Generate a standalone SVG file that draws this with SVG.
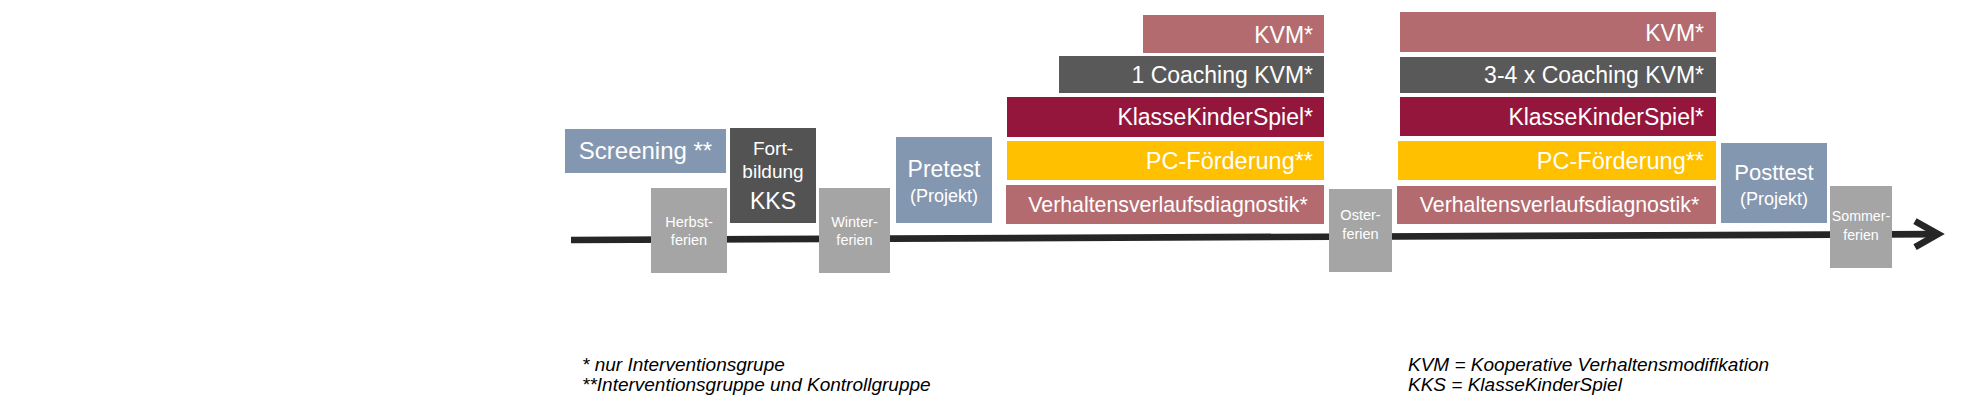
<svg xmlns="http://www.w3.org/2000/svg" width="1974" height="402" viewBox="0 0 1974 402">
  <style>
    text { font-family: "Liberation Sans", Arial, sans-serif; fill: #ffffff; }
    .mid { text-anchor: middle; }
    .end { text-anchor: end; }
    .bar { font-size: 23px; }
    .ferien { font-size: 14.5px; }
    .note { font-size: 19px; font-style: italic; fill: #000000; }
    .blue { fill: #8497B0; }
    .grey { fill: #A5A5A5; }
    .dark { fill: #535353; }
    .coach { fill: #595959; }
    .rose { fill: #B46B6F; }
    .maroon { fill: #95163D; }
    .yellow { fill: #FFC000; }
  </style>
  <defs>
    <marker id="arrowOpen" markerUnits="userSpaceOnUse" markerWidth="40" markerHeight="40" refX="0" refY="0" viewBox="-30 -20 40 40" orient="auto" overflow="visible">
      <path d="M-23,-13 L0,0 L-23,13" fill="none" stroke="#262626" stroke-width="6.7" stroke-linejoin="miter"/>
    </marker>
  </defs>

  <rect width="1974" height="402" fill="#ffffff"/>

  <g id="connectors">
    <line x1="571" y1="240" x2="1938" y2="234.1" stroke="#262626" stroke-width="6.7" marker-end="url(#arrowOpen)"/>
  </g>

  <g id="screening">
    <rect class="blue" x="565" y="129" width="161" height="44"/>
    <text class="mid" x="645.5" y="159" font-size="24">Screening **</text>
  </g>

  <g id="herbstferien">
    <rect class="grey" x="651" y="188" width="76" height="85"/>
    <text class="mid ferien" x="689" y="227">Herbst-</text>
    <text class="mid ferien" x="689" y="245">ferien</text>
  </g>

  <g id="fortbildung">
    <rect class="dark" x="730" y="128" width="86" height="95"/>
    <text class="mid" x="773" y="155" font-size="19">Fort-</text>
    <text class="mid" x="773" y="178" font-size="19">bildung</text>
    <text class="mid" x="773" y="209" font-size="23">KKS</text>
  </g>

  <g id="winterferien">
    <rect class="grey" x="819" y="188" width="71" height="85"/>
    <text class="mid ferien" x="854.5" y="227">Winter-</text>
    <text class="mid ferien" x="854.5" y="245">ferien</text>
  </g>

  <g id="pretest">
    <rect class="blue" x="896" y="137" width="96" height="86"/>
    <text class="mid" x="944" y="177" font-size="23">Pretest</text>
    <text class="mid" x="944" y="202" font-size="18">(Projekt)</text>
  </g>

  <g id="kvm1">
    <rect class="rose" x="1143" y="15" width="181" height="38"/>
    <text class="end bar" x="1313" y="42.5">KVM*</text>
  </g>
  <g id="coaching1">
    <rect class="coach" x="1059" y="56" width="265" height="37"/>
    <text class="end bar" x="1313" y="83">1 Coaching KVM*</text>
  </g>
  <g id="kks1">
    <rect class="maroon" x="1007" y="97" width="317" height="40"/>
    <text class="end bar" x="1313" y="125">KlasseKinderSpiel*</text>
  </g>
  <g id="pc1">
    <rect class="yellow" x="1007" y="141" width="317" height="39"/>
    <text class="end" x="1313" y="168.5" font-size="23.5">PC-Förderung**</text>
  </g>
  <g id="vvd1">
    <rect class="rose" x="1006" y="185" width="318" height="39"/>
    <text class="mid" x="1168" y="212" font-size="21.3">Verhaltensverlaufsdiagnostik*</text>
  </g>

  <g id="osterferien">
    <rect class="grey" x="1329" y="189" width="63" height="83"/>
    <text class="mid ferien" x="1360.5" y="220">Oster-</text>
    <text class="mid ferien" x="1360.5" y="239">ferien</text>
  </g>

  <g id="kvm2">
    <rect class="rose" x="1400" y="12" width="316" height="40"/>
    <text class="end bar" x="1704" y="41">KVM*</text>
  </g>
  <g id="coaching2">
    <rect class="coach" x="1400" y="57" width="316" height="36"/>
    <text class="end bar" x="1704" y="83">3-4 x Coaching KVM*</text>
  </g>
  <g id="kks2">
    <rect class="maroon" x="1400" y="97" width="316" height="39"/>
    <text class="end bar" x="1704" y="124.5">KlasseKinderSpiel*</text>
  </g>
  <g id="pc2">
    <rect class="yellow" x="1398" y="141" width="318" height="39"/>
    <text class="end" x="1704" y="168.5" font-size="23.5">PC-Förderung**</text>
  </g>
  <g id="vvd2">
    <rect class="rose" x="1397" y="186" width="319" height="38"/>
    <text class="mid" x="1559.5" y="212" font-size="21.3">Verhaltensverlaufsdiagnostik*</text>
  </g>

  <g id="posttest">
    <rect class="blue" x="1721" y="143" width="106" height="80"/>
    <text class="mid" x="1774" y="180" font-size="22">Posttest</text>
    <text class="mid" x="1774" y="205" font-size="18">(Projekt)</text>
  </g>

  <g id="sommerferien">
    <rect class="grey" x="1830" y="186" width="62" height="82"/>
    <text class="mid" x="1861" y="221" font-size="14.2">Sommer-</text>
    <text class="mid" x="1861" y="240" font-size="14.2">ferien</text>
  </g>

  <g id="legend-left">
    <text class="note" x="582" y="370.7">* nur Interventionsgrupe</text>
    <text class="note" x="582" y="390.7">**Interventionsgruppe und Kontrollgruppe</text>
  </g>

  <g id="legend-right">
    <text class="note" x="1408" y="370.7" font-size="18.5">KVM = Kooperative Verhaltensmodifikation</text>
    <text class="note" x="1408" y="390.7" font-size="18.5">KKS = KlasseKinderSpiel</text>
  </g>
</svg>
